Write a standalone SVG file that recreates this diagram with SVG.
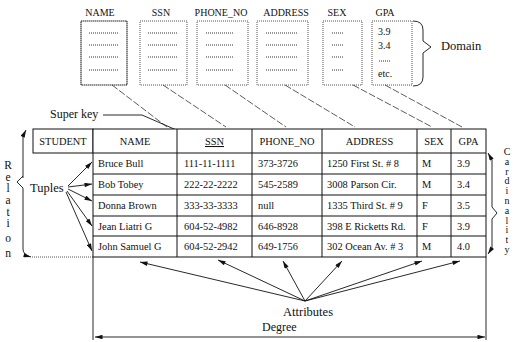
<svg xmlns="http://www.w3.org/2000/svg" width="514" height="342" viewBox="0 0 514 342">
<defs>
<style>
text{font-family:"Liberation Serif","Times New Roman",serif;fill:#111}
.t10{font-size:10px}
.tb{font-size:10.4px}
.lbl{font-size:12.5px}
.c{text-anchor:middle}
.dom{fill:#fff;stroke:#555;stroke-width:1;stroke-dasharray:1 1}
.dots{stroke:#333;stroke-width:1;stroke-dasharray:1 1}
.cell{fill:#fff;stroke:#111;stroke-width:1}
.grid{stroke:#111;stroke-width:1}
.dash{stroke:#333;stroke-width:0.8;stroke-dasharray:7 2;fill:none}
.arr{stroke:#111;stroke-width:0.9;fill:none;marker-end:url(#ah)}
.ln{stroke:#111;stroke-width:0.9;fill:none}
</style>
<marker id="ah" viewBox="0 0 10 6" refX="10" refY="3" markerWidth="9" markerHeight="4.5" markerUnits="userSpaceOnUse" orient="auto-start-reverse">
<path d="M0,0 L10,3 L0,6 z" fill="#111"/>
</marker>
</defs>
<rect width="514" height="342" fill="#fff"/>

<g id="domains">
<g id="dom-name">
<text class="t10 c" x="100" y="16">NAME</text>
<rect x="81" y="21" width="46" height="64" fill="#fff" stroke="#222" stroke-width="1.1" stroke-dasharray="1.5 0.5"/>
<path class="dots" d="M89,33H119M89,45H119M89,57H119M89,70H119"/>
</g>
<g id="dom-ssn">
<text class="t10 c" x="161" y="16">SSN</text>
<rect class="dom" x="140" y="21" width="47" height="64"/>
<path class="dots" d="M148,33H177M148,45H177M148,57H177M148,70H177"/>
</g>
<g id="dom-phone">
<text class="t10 c" x="221" y="16">PHONE_NO</text>
<rect class="dom" x="197" y="21" width="51" height="64"/>
<path class="dots" d="M206,33H234M206,45H234M206,57H234M206,70H234"/>
</g>
<g id="dom-address">
<text class="t10 c" x="286" y="16">ADDRESS</text>
<rect class="dom" x="257" y="21" width="51" height="64"/>
<path class="dots" d="M266,33H298M266,45H298M266,57H298M266,70H298"/>
</g>
<g id="dom-sex">
<text class="t10 c" x="337" y="16">SEX</text>
<rect class="dom" x="323" y="21" width="39" height="64"/>
<path class="dots" d="M332,33H344M332,45H344M332,57H344M332,70H344"/>
</g>
<g id="dom-gpa">
<text class="t10 c" x="385" y="16">GPA</text>
<rect class="dom" x="372" y="21" width="40" height="64" stroke="#333"/>
<text class="t10" x="378" y="35">3.9</text>
<text class="t10" x="378" y="49">3.4</text>
<path class="dots" d="M379,61H390"/>
<text class="t10" x="378" y="77">etc.</text>
</g>
<g id="domain-label">
<path class="ln" d="M413,21 Q423,21 423,30 L423,41 L431,47 L423,53 L423,77 Q423,86 413,86"/>
<text class="lbl" x="441" y="50">Domain</text>
</g>
</g>

<g id="connectors">
<path class="dash" d="M112,85L167,127"/>
<path class="dash" d="M163,85L226,127"/>
<path class="dash" d="M225,85L286,127"/>
<path class="dash" d="M285,85L355,127"/>
<path class="dash" d="M353,85L432,127"/>
<path class="dash" d="M385,85L462,127"/>
<path class="arr" d="M103,115H142L197,139"/>
<path class="arr" d="M68,186L92,162"/>
<path class="arr" d="M68,187L92,184"/>
<path class="arr" d="M68,189L92,201"/>
<path class="arr" d="M67,191L92,226"/>
<path class="arr" d="M66,192L92,251"/>
<path class="arr" d="M305,301L140,262"/>
<path class="arr" d="M305,301L218,260"/>
<path class="arr" d="M305,301L283,261"/>
<path class="arr" d="M305,301L342,261"/>
<path class="arr" d="M305,301L422,261"/>
<path class="arr" d="M305,301L460,261"/>
<path class="ln" d="M93,257V340M486,257V340" stroke="#444"/>
<path class="ln" d="M95,337H485" style="marker-start:url(#ah);marker-end:url(#ah)"/>
<path class="ln" d="M23,178L23,136L26,130" style="marker-end:url(#ah)"/>
<path class="ln" d="M23,176L17,182L23,188L23,249Q23,255 31,257" style="marker-end:url(#ah)"/>
<path d="M32,257H93" stroke="#444" stroke-width="0.9" stroke-dasharray="1 1"/>
<path class="ln" d="M492,207L492,160L488,153" style="marker-end:url(#ah)"/>
<path class="ln" d="M492,207L497,213L492,219L492,248L488,254" style="marker-end:url(#ah)"/>
</g>

<g id="labels">
<text class="lbl" x="50" y="118" style="font-size:12px">Super key</text>
<text class="lbl" x="30" y="192">Tuples</text>
<text class="lbl c" x="308" y="316">Attributes</text>
<text class="lbl" x="262" y="331" style="font-size:12px">Degree</text>
<text id="relation" style="font-size:11.5px" text-anchor="middle"><tspan x="8" y="169">R</tspan><tspan x="8" y="181">e</tspan><tspan x="8" y="192">l</tspan><tspan x="8" y="204">a</tspan><tspan x="8" y="216">t</tspan><tspan x="8" y="227">i</tspan><tspan x="8" y="242">o</tspan><tspan x="8" y="257">n</tspan></text>
<text id="cardinality" style="font-size:10px" text-anchor="middle"><tspan x="507" y="155">C</tspan><tspan x="507" y="164.8">a</tspan><tspan x="507" y="174.6">r</tspan><tspan x="507" y="184.4">d</tspan><tspan x="507" y="194.2">i</tspan><tspan x="507" y="204">n</tspan><tspan x="507" y="213.8">a</tspan><tspan x="507" y="223.6">l</tspan><tspan x="507" y="233.4">i</tspan><tspan x="507" y="243.2">t</tspan><tspan x="507" y="253">y</tspan></text>
</g>

<g id="table">
<g id="student-cell">
<rect class="cell" x="33" y="129" width="60" height="24"/>
<text class="tb c" x="63" y="145">STUDENT</text>
</g>
<rect class="cell" x="93" y="129" width="393" height="128"/>
<path class="grid" d="M93,153H486M93,174H486M93,195H486M93,216H486M93,236H486M177,129V257M252,129V257M322,129V257M417,129V257M451,129V257"/>
<g id="header" class="tb">
<text class="c" x="135" y="145">NAME</text>
<text class="c" x="214.5" y="145" text-decoration="underline">SSN</text>
<text class="c" x="287" y="145">PHONE_NO</text>
<text class="c" x="369.5" y="145">ADDRESS</text>
<text class="c" x="434" y="145">SEX</text>
<text class="c" x="468.5" y="145">GPA</text>
</g>
<g id="row1" class="tb">
<text x="98" y="167">Bruce Bull</text><text x="184" y="167">111-11-1111</text><text x="258" y="167">373-3726</text><text x="327" y="167">1250 First St. # 8</text><text x="422" y="167">M</text><text x="457" y="167">3.9</text>
</g>
<g id="row2" class="tb">
<text x="98" y="188">Bob Tobey</text><text x="184" y="188">222-22-2222</text><text x="258" y="188">545-2589</text><text x="327" y="188">3008 Parson Cir.</text><text x="422" y="188">M</text><text x="457" y="188">3.4</text>
</g>
<g id="row3" class="tb">
<text x="98" y="209">Donna Brown</text><text x="184" y="209">333-33-3333</text><text x="258" y="209">null</text><text x="327" y="209">1335 Third St. # 9</text><text x="422" y="209">F</text><text x="457" y="209">3.5</text>
</g>
<g id="row4" class="tb">
<text x="98" y="229.5">Jean Liatri G</text><text x="184" y="229.5">604-52-4982</text><text x="258" y="229.5">646-8928</text><text x="327" y="229.5">398 E Ricketts Rd.</text><text x="422" y="229.5">F</text><text x="457" y="229.5">3.9</text>
</g>
<g id="row5" class="tb">
<text x="98" y="250">John Samuel G</text><text x="184" y="250">604-52-2942</text><text x="258" y="250">649-1756</text><text x="327" y="250">302 Ocean Av. # 3</text><text x="422" y="250">M</text><text x="457" y="250">4.0</text>
</g>
</g>
</svg>
